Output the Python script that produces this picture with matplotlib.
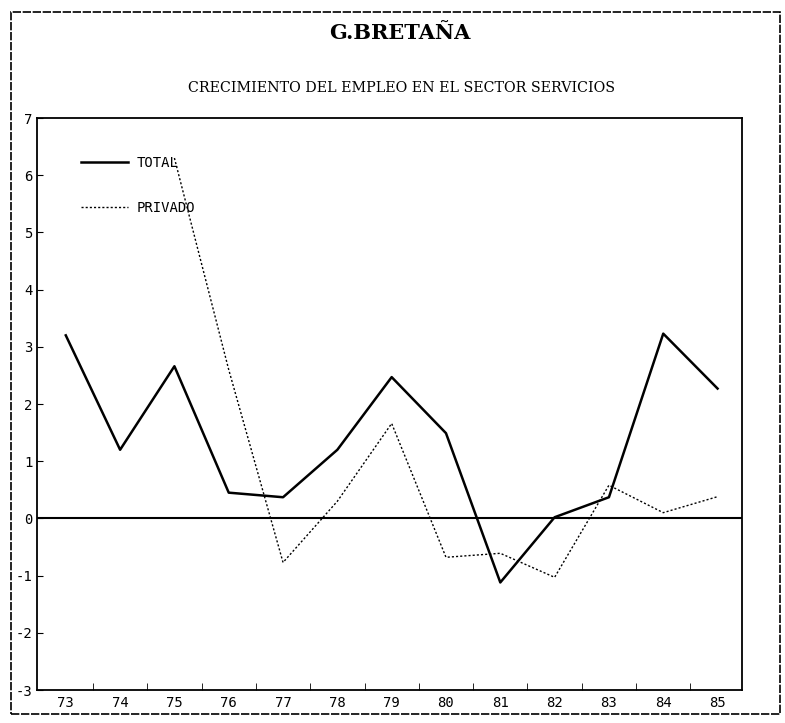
import numpy as np
import matplotlib
matplotlib.use("Agg")
import matplotlib.pyplot as plt
from matplotlib.patches import Rectangle

years = ["73", "74", "75", "76", "77", "78", "79", "80", "81", "82", "83", "84", "85"]
total = [3.2, 1.2, 2.66, 0.45, 0.37, 1.2, 2.47, 1.49, -1.12, 0.02, 0.37, 3.23, 2.27]
privado = [np.nan, np.nan, 6.3, 2.6, -0.77, 0.3, 1.66, -0.68, -0.61, -1.03, 0.58, 0.1, 0.38]
yticks = [-3, -2, -1, 0, 1, 2, 3, 4, 5, 6, 7]

title = "G.BRETAÑA"
subtitle = "CRECIMIENTO DEL EMPLEO EN EL SECTOR SERVICIOS"

fig = plt.figure(figsize=(7.85, 7.23), dpi=100)
ax = fig.add_axes([37/785, 1 - 690/723, (742 - 37)/785, (690 - 118)/723])

x = np.arange(len(years))
ax.plot(x, total, color="black", lw=1.8, label="TOTAL")
ax.plot(x, privado, color="black", lw=1.0, linestyle=(0, (1.5, 1.5)), label="PRIVADO")
ax.axhline(0, color="black", lw=1.5)

ax.set_xlim(-0.53, 12.45)
ax.set_ylim(-3, 7)
ax.set_yticks(yticks)
ax.set_yticklabels([str(v) for v in yticks], fontsize=10, family="DejaVu Sans Mono")
ax.set_xticks(x)
ax.set_xticklabels(years, fontsize=10, family="DejaVu Sans Mono")
ax.tick_params(axis="x", length=0, pad=4)
ax.tick_params(axis="y", direction="in", length=4, pad=3)
ax.set_xticks(x[:-1] + 0.5, minor=True)
ax.tick_params(axis="x", which="minor", direction="in", length=5)

for s in ax.spines.values():
    s.set_linewidth(1.3)
ax.spines["left"].set_linestyle((0, (4, 1)))
ax.spines["right"].set_linestyle((0, (4, 1)))

leg = ax.legend(loc="upper left", bbox_to_anchor=(0.045, 0.955), frameon=False,
                handlelength=3.4, handletextpad=0.6, labelspacing=2.2,
                prop={"family": "DejaVu Sans Mono", "size": 10})

fig.text(400/785, 1 - 33/723, title, ha="center", va="center", fontsize=15,
         fontweight="bold", family="DejaVu Serif")
fig.text(401/785, 1 - 88/723, subtitle, ha="center", va="center", fontsize=10.3,
         family="DejaVu Serif")

fig.patches.append(Rectangle((11/785, 1 - 714/723), (780 - 11)/785, (714 - 12)/723,
                             transform=fig.transFigure, fill=False, ec="black",
                             lw=1.2, ls=(0, (5, 1))))

fig.savefig("out.png", dpi=100)
